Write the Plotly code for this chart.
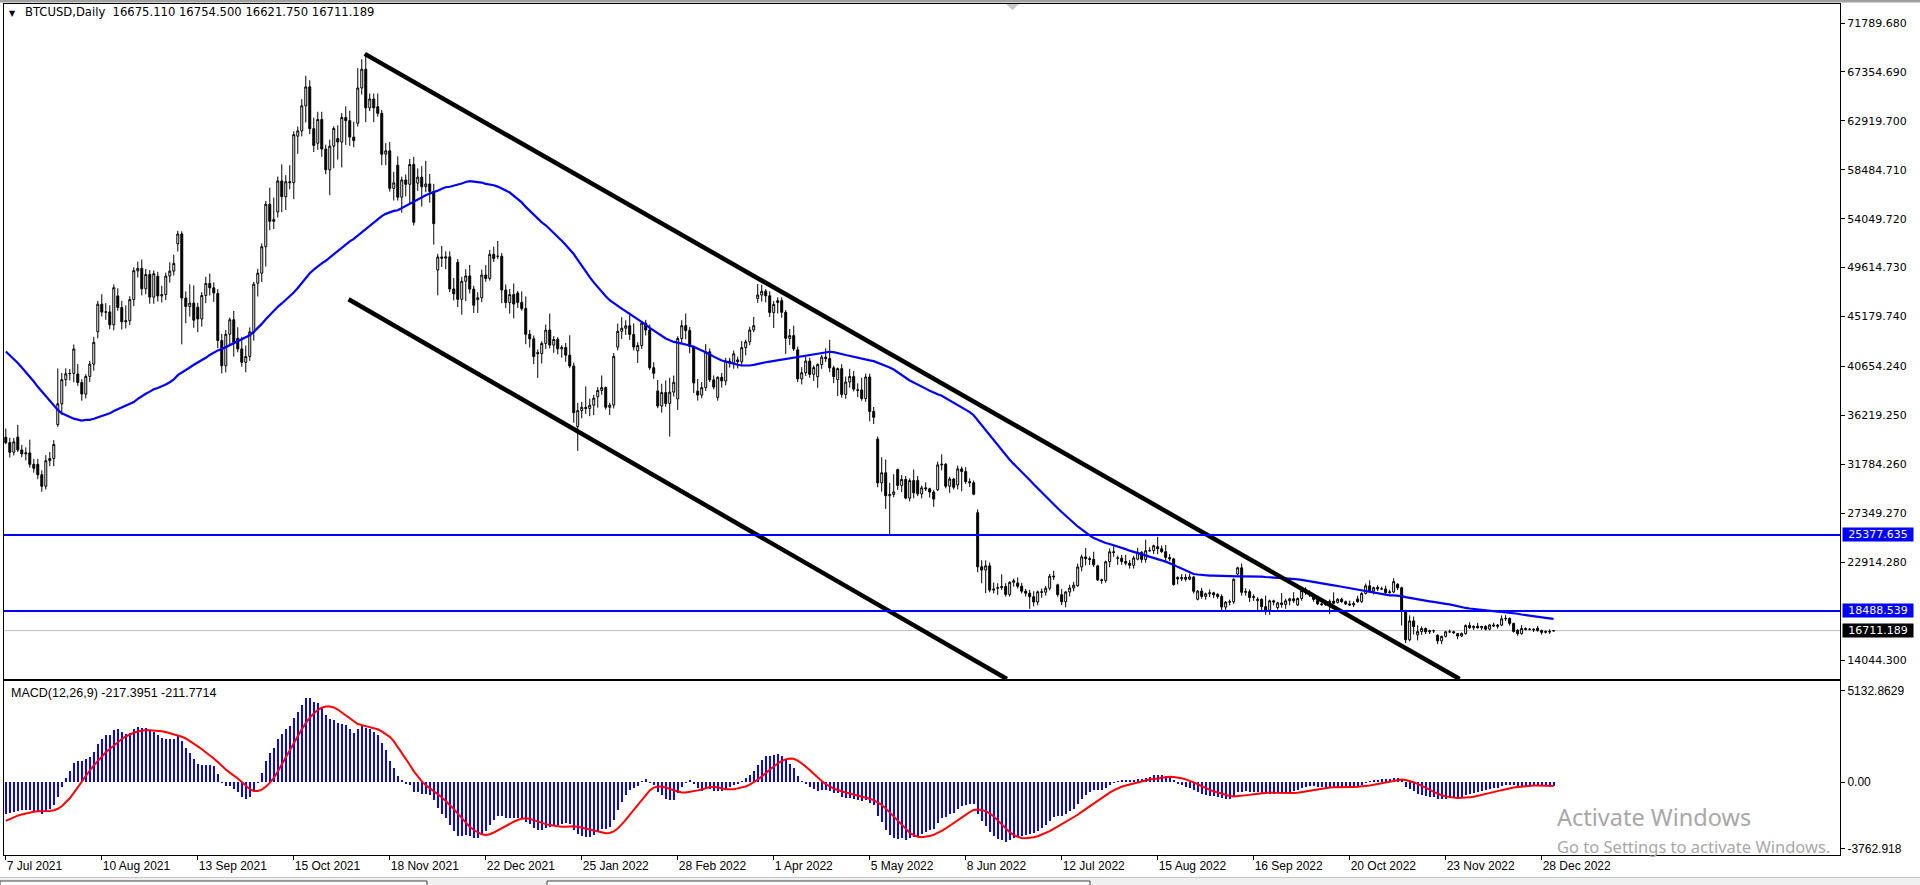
import numpy as np
import pandas as pd
import plotly.graph_objects as go

# BTCUSD closes, one row per calendar week (Mon..Sun), starting Mon 19 Apr 2021.
# The broker only prints weekday bars; a Monday opens at the Sunday close.
daily_close = [
    55720, 56470, 53900, 51700, 51150, 50050, 49000,
    54020, 55030, 54820, 53560, 57750, 57830, 56630,
    57200, 53240, 57470, 56390, 57360, 58800, 58230,
    55860, 56610, 49150, 49720, 49880, 46760, 46430,
    43540, 42910, 36970, 40550, 37300, 37470, 34770,
    38710, 38400, 39290, 38530, 35660, 34620, 35680,
    37340, 36690, 37570, 39190, 36830, 35520, 35800,
    33550, 33400, 37390, 36690, 37310, 35550, 39100,
    40520, 40140, 38350, 38090, 35820, 35480, 35600,
    31680, 32510, 33680, 34660, 31590, 32280, 34700,
    34490, 35910, 35040, 33570, 33900, 34840, 35290,
    33690, 34230, 33750, 32880, 33820, 33520, 34260,
    33090, 32730, 32820, 31780, 31420, 31530, 31780,
    30840, 29790, 32110, 32310, 33580, 34290, 35380,
    37270, 39460, 39990, 40020, 42240, 41610, 39970,
    39200, 38150, 39750, 40870, 42840, 44600, 43800,
    46300, 45580, 45600, 44430, 47790, 47100, 47050,
    46000, 44700, 44800, 46720, 49340, 48900, 49320,
    49550, 47700, 48990, 46940, 49060, 48900, 48830,
    47050, 47170, 48850, 49300, 50000, 49940, 51770,
    52660, 46860, 46080, 46400, 44850, 45160, 46030,
    44960, 47090, 48180, 47780, 47310, 48310, 47260,
    43010, 40720, 43570, 44890, 42840, 42720, 43210,
    42240, 41030, 41560, 43790, 48120, 47710, 48200,
    49110, 51510, 55360, 53810, 53970, 54970, 54660,
    57470, 56040, 57400, 57320, 61670, 60880, 61530,
    62010, 64280, 66000, 62210, 60690, 61390, 60890,
    63040, 60360, 58480, 60620, 62230, 61890, 61320,
    61000, 63230, 62940, 61450, 61130, 61530, 62700,
    65900, 67600, 64100, 64900, 64100, 64470, 64200,
    63600, 59900, 60200, 56800, 57300, 59750, 58900,
    56000, 57560, 57170, 58960, 53730, 54720, 57270,
    57810, 56950, 57200, 56510, 53600, 49250, 49400,
    50580, 50470, 50590, 47680, 47240, 49360, 50100,
    46740, 48380, 48860, 47670, 46200, 46850, 46710,
    46880, 48940, 48630, 50820, 50430, 50810, 50640,
    50640, 47590, 46440, 47180, 46310, 47690, 47310,
    46460, 45900, 43570, 43160, 41560, 41730, 41910,
    41820, 42740, 43950, 42590, 43100, 43180, 43110,
    42250, 42380, 41680, 40700, 36460, 35030, 35200,
    36650, 36950, 36850, 37140, 37780, 38170, 37920,
    38480, 38740, 36950, 37150, 41570, 41380, 42410,
    43840, 44120, 44340, 43560, 42410, 42200, 42070,
    42550, 44580, 43960, 40540, 40030, 40120, 38430,
    37070, 38290, 37300, 38330, 39220, 39120, 37710,
    43190, 44350, 43920, 42450, 39150, 39400, 38420,
    38060, 38740, 41980, 39440, 38790, 38900, 37850,
    39670, 39340, 41140, 40950, 41800, 42190, 41250,
    41080, 42360, 42890, 43960, 44350, 44500, 46820,
    47130, 47470, 47060, 45540, 46280, 45870, 46450,
    46620, 45560, 43200, 43450, 42250, 42750, 42160,
    39530, 40090, 41150, 39940, 40550, 40410, 39720,
    40830, 41500, 41370, 40530, 39740, 39480, 39470,
    40460, 38120, 39240, 39740, 38600, 37710, 38470,
    38530, 37750, 39700, 36580, 36040, 35500, 34060,
    30100, 31020, 28940, 29050, 29280, 30100, 31300,
    29860, 30420, 28720, 30310, 29200, 29430, 30320,
    29100, 29650, 29560, 29270, 28630, 29030, 29470,
    31730, 31790, 29800, 30450, 29700, 29860, 29910,
    31370, 31130, 30210, 30110, 29080, 28360, 27400,
    22490, 22200, 22580, 20380, 20470, 19020, 20550,
    20600, 20710, 19990, 21090, 21230, 21500, 21030,
    20730, 20280, 20100, 19780, 19300, 19240, 19300,
    20230, 20190, 20550, 21640, 21590, 21590, 20860,
    19970, 19320, 20210, 20570, 20830, 21190, 20780,
    22480, 23390, 23230, 23160, 22680, 22450, 22580,
    21310, 21250, 22950, 23850, 23800, 23650, 23300,
    23270, 22980, 22820, 22630, 23290, 22960, 23180,
    23810, 23160, 23950, 23960, 24400, 24440, 24310,
    24130, 23860, 23340, 23210, 20880, 21170, 21530,
    21400, 21530, 21370, 21570, 20270, 20040, 19550,
    20290, 19810, 20050, 20130, 19950, 19830, 20000,
    19800, 18840, 19290, 19320, 21360, 21650, 21830,
    22400, 20180, 20240, 19700, 19800, 20110, 19420,
    19540, 18880, 18550, 19410, 19300, 18930, 18800,
    19220, 19080, 19410, 19590, 19420, 19310, 19040,
    19620, 20340, 20160, 19960, 19530, 19420, 19450,
    19130, 19060, 19160, 19380, 19180, 19070, 19270,
    19550, 19330, 19130, 19040, 19170, 19200, 19570,
    19330, 20080, 20770, 20290, 20600, 20810, 20630,
    20490, 20480, 20150, 20210, 21150, 21300, 20910,
    20590, 18540, 15880, 17590, 17070, 16810, 16330,
    16620, 16900, 16600, 16690, 16700, 16700, 16280,
    15780, 16190, 16600, 16600, 16520, 16460, 16440,
    16220, 16440, 17170, 16970, 17090, 16890, 17110,
    16970, 17090, 16840, 17220, 17130, 17130, 17090,
    17210, 17780, 17810, 17360, 16630, 16780, 16740,
    16440, 16900, 16820, 16830, 16780, 16840, 16830,
    16920, 16710, 16550, 16630, 16600, 16540, 16675.11,
    16711.189,
]
holidays = ["2022-12-26"]

# wick lengths in USD for each weekday bar on screen (Wed 7 Jul 2021 .. Mon 2 Jan 2023)
wick_hi = [
    800, 450, 350,
    1100, 450, 500, 1200, 500,   500, 400, 500, 600, 400,   3200, 600, 500, 400, 400,
    900, 300, 200, 300, 500,   300, 900, 800, 600, 300,   700, 600, 1400, 300, 300,
    600, 800, 500, 400, 300,   400, 800, 300, 800, 800,   300, 250, 600, 1700, 1600,
    400, 300, 600, 900, 500,   400, 600, 400, 200, 800,   1000, 1100, 1000, 400, 200,
    400, 300, 300, 1500, 2000,   400, 1500, 600, 1500, 300,   400, 600, 1000, 600, 1000,
    700, 700, 400, 600, 200,   1200, 400, 1000, 900, 1400,   1800, 900, 1390, 500, 500,
    1200, 300, 700, 800, 1000,   800, 300, 500, 500, 700,   800, 1000, 2100, 900, 700,
    300, 1000, 500, 500, 1000,   300, 400, 600, 1000, 300,   500, 500, 900, 400, 700,
    1400, 300, 500, 500, 1000,   200, 1000, 1100, 400, 300,   300, 200, 500, 1500, 300,
    200, 200, 400, 1800, 300,   700, 500, 1900, 600, 300,   300, 1100, 100, 200, 300,
    700, 1000, 500, 1200, 1000,   300, 200, 300, 500, 500,   1000, 800, 1100, 1300, 600,
    200, 500, 1100, 300, 100,   1100, 500, 700, 300, 400,   100, 400, 300, 300, 300,
    300, 600, 200, 300, 800,   1000, 600, 200, 400, 300,   300, 300, 200, 600, 900,
    300, 500, 400, 300, 200,   100, 200, 800, 1700, 200,   100, 400, 500, 700, 500,
    600, 1100, 300, 300, 400,   250, 1400, 1200, 1050, 1600,   100, 400, 300, 200, 1000,
    400, 200, 500, 100, 200,   300, 900, 100, 200, 100,   300, 200, 400, 300, 200,
    300, 600, 500, 300, 600,   400, 1100, 300, 100, 200,   500, 300, 200, 300, 500,
    100, 300, 200, 200, 500,   100, 500, 100, 300, 300,   300, 200, 800, 200, 700,
    100, 100, 100, 300, 500,   200, 300, 600, 300, 200,   400, 100, 1000, 300, 100,
    900, 300, 600, 300, 100,   100, 300, 300, 300, 100,   100, 300, 100, 300, 100,
    100, 200, 100, 200, 100,   100, 400, 300, 200, 200,   200, 100, 1000, 100, 100,
    100, 900, 200, 100, 600,   100, 100, 300, 200, 100,   100, 100, 100, 150, 800,
    100, 150, 100, 300, 200,   300, 100, 200, 500, 100,   200, 200, 300, 200, 300,
    100, 100, 50, 500, 400,   580, 200, 100, 100, 100,   100, 50, 100, 200, 100,
    50, 100, 100, 300, 100,   300, 50, 100, 100, 200,   100, 300, 300, 100, 50,
    100, 300, 100, 100, 100,
    200, 100, 100, 200,
    43.311,
]
wick_lo = [
    150, 480, 300,
    200, 300, 600, 300, 400,   400, 500, 300, 500, 700,   200, 1000, 600, 600, 800,
    300, 600, 400, 500, 600,   600, 400, 700, 400, 500,   300, 700, 600, 400, 600,
    600, 600, 500, 600, 600,   500, 600, 500, 600, 400,   700, 4200, 1500, 900, 700,
    1200, 700, 700, 700, 800,   700, 700, 600, 900, 1300,   300, 400, 900, 400, 800,
    1200, 800, 1800, 800, 700,   500, 1400, 1200, 600, 1500,   1600, 500, 1500, 500, 600,
    600, 700, 400, 2300, 2000,   1600, 2300, 2200, 800, 600,   300, 600, 1300, 300, 1300,
    300, 1000, 1000, 300, 1100,   300, 1400, 1100, 1700, 300,   700, 1800, 500, 1000, 1900,
    2300, 800, 1000, 300, 600,   700, 1400, 1800, 400, 700,   1200, 400, 300, 200, 300,
    240, 1200, 500, 1000, 1300,   500, 200, 900, 800, 700,   2200, 900, 500, 300, 700,
    500, 800, 600, 200, 900,   2200, 700, 500, 700, 900,   1000, 400, 200, 700, 300,
    300, 700, 600, 500, 300,   1100, 300, 500, 200, 500,   200, 600, 300, 3000, 400,
    1000, 400, 800, 600, 900,   500, 300, 300, 200, 200,   300, 600, 400, 400, 500,
    600, 400, 700, 300, 200,   400, 600, 600, 400, 1400,   1000, 500, 1400, 600, 200,
    300, 500, 300, 300, 600,   1000, 400, 300, 400, 600,   1500, 300, 400, 500, 200,
    600, 200, 300, 900, 600,   400, 800, 1200, 3540, 250,   400, 600, 100, 300, 500,
    200, 400, 200, 500, 700,   100, 500, 200, 600, 200,   400, 1800, 200, 400, 100,
    500, 1200, 2100, 200, 300,   600, 200, 200, 200, 400,   200, 200, 300, 1100, 400,
    300, 500, 300, 200, 300,   200, 300, 500, 400, 300,   100, 400, 600, 500, 200,
    100, 300, 200, 500, 400,   600, 300, 200, 300, 300,   100, 300, 300, 100, 300,
    500, 100, 300, 200, 100,   500, 200, 200, 100, 200,   100, 200, 300, 300, 300,
    200, 300, 300, 300, 200,   100, 300, 300, 400, 300,   900, 300, 400, 400, 300,
    200, 300, 400, 400, 200,   100, 200, 200, 200, 200,   100, 100, 100, 950, 100,
    100, 100, 100, 100, 200,   100, 100, 100, 100, 300,   200, 100, 100, 100, 100,
    200, 1370, 300, 150, 700,   510, 300, 200, 200, 200,   300, 300, 100, 100, 100,
    300, 100, 100, 100, 200,   100, 200, 100, 100, 100,   200, 100, 200, 200, 100,
    200, 100, 100, 100, 200,
    100, 200, 100, 200,
    53.36,
]

tick_dates = ["2021-07-07", "2021-08-10", "2021-09-13", "2021-10-15", "2021-11-18",
              "2021-12-22", "2022-01-25", "2022-02-28", "2022-04-01", "2022-05-05",
              "2022-06-08", "2022-07-12", "2022-08-15", "2022-09-16", "2022-10-20",
              "2022-11-23", "2022-12-28"]
price_ticks = [71789.680, 67354.690, 62919.700, 58484.710, 54049.720, 49614.730,
               45179.740, 40654.240, 36219.250, 31784.260, 27349.270, 22914.280, 14044.300]
levels = [25377.635, 18488.539]
upper_x, upper_y = [89.75, 363.5], [68990, 12322]
lower_x, lower_y = [85.7, 250.3], [46751, 12322]
macd_ticks = [5132.8629, 0.0, -3762.918]
macd_ticktext = ["5132.8629", "0.00", "-3762.918"]
macd_values = "-217.3951 -211.7714"
MA_PERIOD = 55

# ---- bars and indicators ----
days = pd.date_range("2021-04-19", periods=len(daily_close), freq="D")
close_all = pd.Series(daily_close, index=days, dtype=float)
bars = pd.DataFrame({"open": close_all.shift(1), "close": close_all})
keep = (days.dayofweek < 5) & ~days.isin(pd.to_datetime(holidays))
bars = bars[keep]
bars["open"] = bars["open"].fillna(bars["close"])
bars["ma"] = bars["close"].rolling(MA_PERIOD).mean()
ema12 = bars["close"].ewm(span=12, adjust=False).mean()
ema26 = bars["close"].ewm(span=26, adjust=False).mean()
bars["macd"] = ema12 - ema26
bars["signal"] = bars["macd"].rolling(9).mean()
bars["bar"] = np.arange(len(bars)) - bars.index.get_loc(pd.Timestamp("2021-07-07"))

vis = bars[bars["bar"] >= 0].copy()
assert len(vis) == len(wick_hi) == len(wick_lo), (len(vis), len(wick_hi), len(wick_lo))
vis["high"] = vis[["open", "close"]].max(axis=1) + np.array(wick_hi)
vis["low"] = vis[["open", "close"]].min(axis=1) - np.array(wick_lo)
last = vis.iloc[-1]

# ---- geometry (pixels) ----
W, H = 1920, 885
L, R, T, B = 4, 1840, 4, 855
PRICE_BOTTOM, MACD_TOP = 679, 681
ph = B - T


def px(x):
    return (x - L) / (R - L)


def py(y):
    return (B - y) / ph


fig = go.Figure()

fig.add_trace(go.Candlestick(
    x=vis["bar"], open=vis["open"], high=vis["high"], low=vis["low"], close=vis["close"],
    increasing=dict(line=dict(color="black", width=1), fillcolor="white"),
    decreasing=dict(line=dict(color="black", width=1), fillcolor="black"),
    whiskerwidth=0, showlegend=False, hoverinfo="skip",
))
fig.add_trace(go.Scatter(x=vis["bar"], y=vis["ma"], mode="lines",
                         line=dict(color="#0000ff", width=2.2), showlegend=False, hoverinfo="skip"))
for xs, ys in [(upper_x, upper_y), (lower_x, lower_y)]:
    fig.add_trace(go.Scatter(x=xs, y=ys, mode="lines", line=dict(color="black", width=4.5),
                             showlegend=False, hoverinfo="skip"))

fig.add_trace(go.Bar(x=vis["bar"], y=vis["macd"], width=0.55,
                     marker=dict(color="#0a0ae0", line=dict(width=0)),
                     xaxis="x2", yaxis="y2", showlegend=False, hoverinfo="skip"))
fig.add_trace(go.Scatter(x=vis["bar"], y=vis["signal"], mode="lines", line=dict(color="#ff0000", width=2),
                         xaxis="x2", yaxis="y2", showlegend=False, hoverinfo="skip"))

shapes = []
for lv in levels:
    shapes.append(dict(type="line", xref="x domain", yref="y", x0=0, x1=1, y0=lv, y1=lv,
                       line=dict(color="#0000ff", width=2)))
shapes.append(dict(type="line", xref="x domain", yref="y", x0=0, x1=1, y0=last["close"], y1=last["close"],
                   line=dict(color="#c0c0c0", width=1), layer="below"))
# window chrome: top frame, chart-shift marker, bottom tab strip
shapes.append(dict(type="rect", xref="paper", yref="paper", x0=px(0), x1=px(W), y0=py(0), y1=py(2.5),
                   line=dict(width=0), fillcolor="#a0a0a0"))
shapes.append(dict(type="path", xref="paper", yref="paper",
                   path=f"M {px(1006)} {py(4)} L {px(1019)} {py(4)} L {px(1012.5)} {py(10)} Z",
                   line=dict(width=0), fillcolor="#c8c8c8"))
shapes.append(dict(type="rect", xref="paper", yref="paper", x0=px(0), x1=px(W), y0=py(877), y1=py(885),
                   line=dict(width=0), fillcolor="#f0f0f0"))
shapes.append(dict(type="line", xref="paper", yref="paper", x0=px(0), x1=px(W), y0=py(877.5), y1=py(877.5),
                   line=dict(color="#c8c8c8", width=1)))
for x0, x1 in [(0, 427), (547, 1090)]:
    shapes.append(dict(type="rect", xref="paper", yref="paper", x0=px(x0), x1=px(x1), y0=py(881), y1=py(887),
                       line=dict(color="#404040", width=1), fillcolor="white"))

ann = []
ann.append(dict(xref="paper", yref="paper", x=px(12.5), y=py(13), text="▼", showarrow=False,
                font=dict(family="DejaVu Sans", size=8, color="black"), xanchor="center", yanchor="middle"))
header = "BTCUSD,Daily  " + " ".join(f"{last[k]:.3f}" for k in ["open", "high", "low", "close"])
ann.append(dict(xref="paper", yref="paper", x=px(23), y=py(12), text=header, showarrow=False,
                font=dict(family="DejaVu Sans", size=11.6, color="black"), xanchor="left", yanchor="middle"))
ann.append(dict(xref="paper", yref="paper", x=px(9), y=py(693), text="MACD(12,26,9) " + macd_values,
                showarrow=False, font=dict(family="Liberation Sans", size=12.5, color="black"),
                xanchor="left", yanchor="middle"))
for lv, bg in [(levels[0], "#0000ff"), (levels[1], "#0000ff"), (last["close"], "black")]:
    ann.append(dict(xref="paper", yref="y", x=1, y=lv, text=f"{lv:.3f}", showarrow=False,
                    xanchor="left", yanchor="middle", xshift=2, bgcolor=bg, borderpad=1,
                    width=68, height=11, font=dict(family="DejaVu Sans", size=11, color="white")))
ann.append(dict(xref="paper", yref="paper", x=px(1555), y=py(817), text="Activate Windows", showarrow=False,
                xanchor="left", yanchor="middle", font=dict(family="Noto Sans", size=23.5, color="#a8a8a8")))
ann.append(dict(xref="paper", yref="paper", x=px(1555), y=py(846), text="Go to Settings to activate Windows.",
                showarrow=False, xanchor="left", yanchor="middle",
                font=dict(family="Noto Sans", size=16.5, color="#a8a8a8")))

tickvals = [int(vis.loc[pd.Timestamp(d), "bar"]) for d in tick_dates]
ticktext = [f"{pd.Timestamp(d).day} {pd.Timestamp(d):%b %Y}" for d in tick_dates]

frame = dict(showline=True, mirror=True, linecolor="black", linewidth=1, showgrid=False, zeroline=False)
fig.update_layout(
    width=W, height=H, margin=dict(l=L, r=W - R, t=T, b=H - B),
    paper_bgcolor="white", plot_bgcolor="white", boxgap=0.3,
    barmode="overlay", bargap=0, showlegend=False,
    xaxis=dict(domain=[0, 1], range=[-0.45, 458.6], anchor="y", showticklabels=False, ticks="",
               rangeslider=dict(visible=False), **frame),
    xaxis2=dict(domain=[0, 1], matches="x", anchor="y2", tickvals=tickvals, ticktext=ticktext,
                ticks="outside", ticklen=4, tickcolor="black", ticklabelposition="outside right",
                tickfont=dict(family="Liberation Sans", size=12, color="black"), **frame),
    yaxis=dict(domain=[py(PRICE_BOTTOM), 1], range=[12322, 73512], side="right", anchor="x",
               tickvals=price_ticks, ticktext=[f"{v:.3f}" for v in price_ticks],
               ticks="outside", ticklen=4, tickcolor="black",
               tickfont=dict(family="DejaVu Sans", size=11, color="black"), **frame),
    yaxis2=dict(domain=[0, py(MACD_TOP)], range=[-4108, 5684], side="right", anchor="x2",
                tickvals=macd_ticks, ticktext=macd_ticktext, ticks="outside", ticklen=4, tickcolor="black",
                tickfont=dict(family="Liberation Sans", size=12, color="black"), **frame),
    shapes=shapes, annotations=ann,
)

fig.write_html("out.html", config={"displayModeBar": False},
               post_script="document.body.style.margin='0';document.body.style.overflow='hidden';")
